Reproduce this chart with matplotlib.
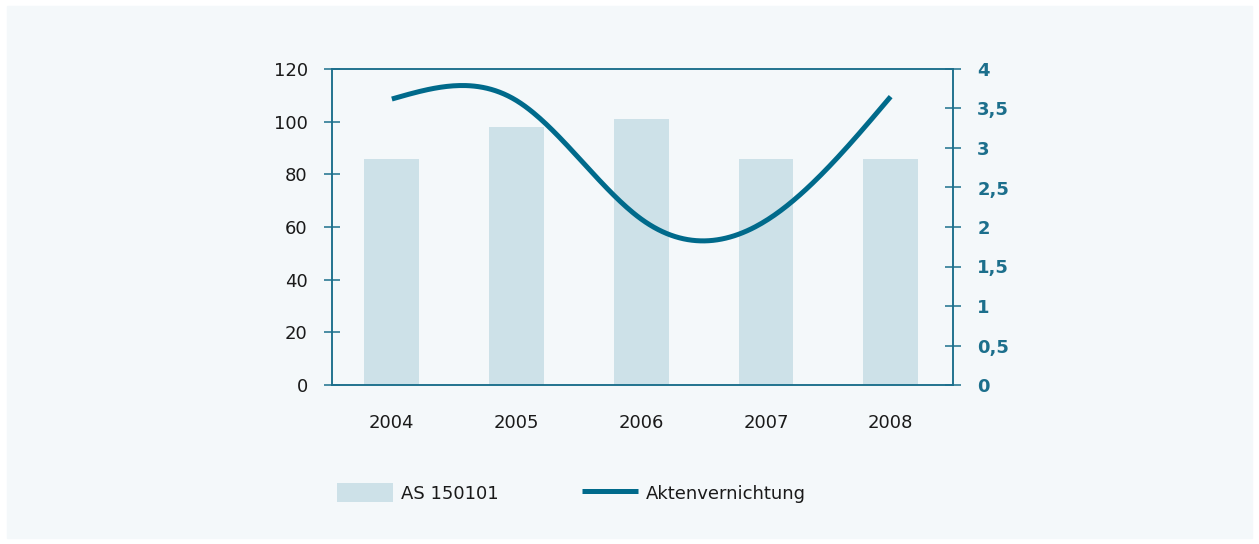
import matplotlib
matplotlib.use("Agg")
import matplotlib.pyplot as plt
from matplotlib.patches import Rectangle
import numpy as np

plt.rcParams['font.family'] = ['DejaVu Sans']

years = ['2004', '2005', '2006', '2007', '2008']
as_150101 = [86, 98, 101, 86, 86]
akten = [3.62, 3.6, 2.1, 2.08, 3.65]

left_ticks = [0, 20, 40, 60, 80, 100, 120]
right_ticks = [0, 0.5, 1, 1.5, 2, 2.5, 3, 3.5, 4]
right_labels = ['0', '0,5', '1', '1,5', '2', '2,5', '3', '3,5', '4']

bar_col = '#cde1e8'
line_col = '#006a8b'
axis_col = '#1c6f8c'
panel_col = '#f4f8fa'
fs = 13


def natural_spline(y, n=60):
    # natural cubic spline through equally spaced points
    y = np.asarray(y, float)
    k = len(y)
    A = np.zeros((k, k))
    b = np.zeros(k)
    A[0, 0] = A[-1, -1] = 1
    for i in range(1, k - 1):
        A[i, i - 1], A[i, i], A[i, i + 1] = 1, 4, 1
        b[i] = 6 * (y[i + 1] - 2 * y[i] + y[i - 1])
    M = np.linalg.solve(A, b)
    xs, ys = [], []
    t = np.linspace(0, 1, n)
    for i in range(k - 1):
        s = (1 - t) * y[i] + t * y[i + 1] - t * (1 - t) / 6 * ((2 - t) * M[i] + (1 + t) * M[i + 1])
        xs.append(i + t)
        ys.append(s)
    return np.concatenate(xs), np.concatenate(ys)


fig = plt.figure(figsize=(12.59, 5.44), dpi=100)
fig.patch.set_facecolor('white')
fig.patches.append(Rectangle((7 / 1259, 6 / 544), 1245 / 1259, 532 / 544,
                             transform=fig.transFigure, color=panel_col, zorder=-10))

ax = fig.add_axes([332 / 1259, 159 / 544, 621 / 1259, 316 / 544])
ax.set_facecolor('none')
x = np.arange(len(years))
bars = ax.bar(x, as_150101, width=0.44, color=bar_col, label='AS 150101', zorder=1)
ax.set_xlim(-0.48, 4.5)
ax.set_ylim(0, 120)
ax.set_yticks(left_ticks)
ax.set_xticks(x)
ax.set_xticklabels(years)
ax.tick_params(axis='x', length=0, pad=21, labelsize=fs, labelcolor='#1a1a1a')
ax.tick_params(axis='y', direction='inout', length=11, width=1.1, color=axis_col,
               pad=12, labelsize=fs, labelcolor='#1a1a1a')
for s in ax.spines.values():
    s.set_color(axis_col)
    s.set_linewidth(1.1)

ax2 = ax.twinx()
sx, sy = natural_spline(akten)
line, = ax2.plot(sx, sy, color=line_col, lw=3.6, solid_capstyle='butt',
                 label='Aktenvernichtung', zorder=3)
ax2.set_ylim(0, 4)
ax2.set_yticks(right_ticks)
ax2.set_yticklabels(right_labels)
ax2.tick_params(axis='y', direction='inout', length=11, width=1.1, color=axis_col,
                pad=12, labelsize=fs, labelcolor=axis_col)
for lab in ax2.get_yticklabels():
    lab.set_fontweight('bold')
for s in ax2.spines.values():
    s.set_color(axis_col)
    s.set_linewidth(1.1)

fig.legend([bars, line], ['AS 150101', 'Aktenvernichtung'],
           loc='center left', bbox_to_anchor=(337 / 1259, 1 - 493 / 544),
           ncol=2, frameon=False, fontsize=fs, handlelength=3.1, handleheight=1.2,
           handletextpad=0.45, columnspacing=4.6, borderpad=0, borderaxespad=0,
           labelcolor='#1a1a1a')

fig.savefig('out.png', dpi=100, facecolor='white')
